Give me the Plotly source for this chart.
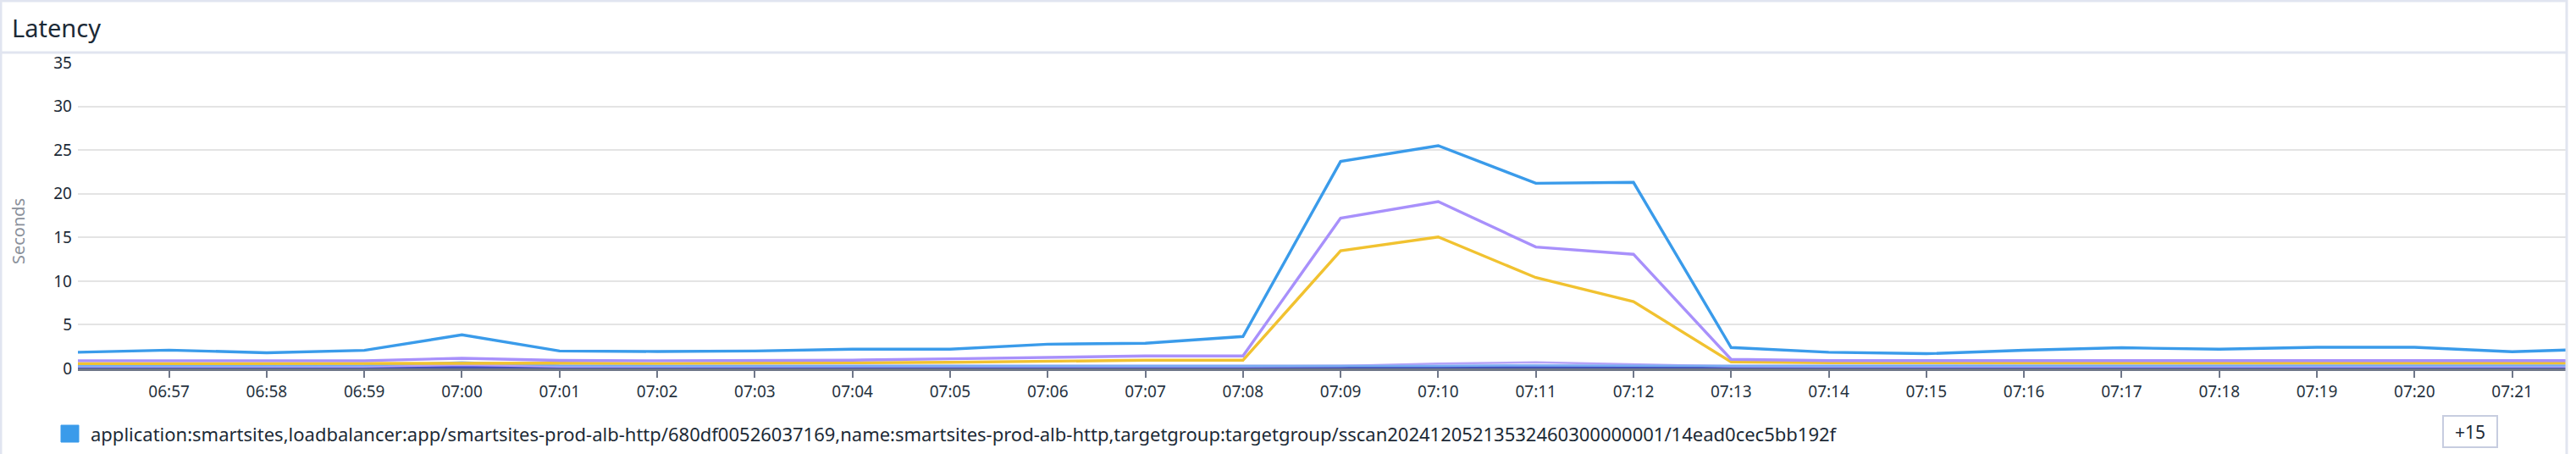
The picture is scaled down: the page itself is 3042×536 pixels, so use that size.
import plotly.graph_objects as go

# ---------------- data ----------------
DATE = "2024-12-05"
minutes = ["06:56", "06:57", "06:58", "06:59", "07:00", "07:01", "07:02", "07:03", "07:04",
           "07:05", "07:06", "07:07", "07:08", "07:09", "07:10", "07:11", "07:12", "07:13",
           "07:14", "07:15", "07:16", "07:17", "07:18", "07:19", "07:20", "07:21", "07:22"]
times = [f"{DATE} {m}:00" for m in minutes]

legend_name = ("application:smartsites,loadbalancer:app/smartsites-prod-alb-http/680df00526037169,"
               "name:smartsites-prod-alb-http,targetgroup:targetgroup/"
               "sscan20241205213532460300000001/14ead0cec5bb192f")

blue = [1.84, 2.10, 1.80, 2.07, 3.85, 2.00, 1.94, 2.00, 2.20, 2.20, 2.78, 2.88, 3.66, 23.7,
        25.5, 21.2, 21.3, 2.40, 1.85, 1.69, 2.08, 2.37, 2.20, 2.43, 2.43, 1.92, 2.25]
purple = [0.88, 0.88, 0.90, 0.88, 1.17, 0.92, 0.88, 0.88, 0.95, 1.10, 1.25, 1.43, 1.43, 17.2,
          19.1, 13.9, 13.07, 1.04, 0.90, 0.90, 0.90, 0.90, 0.90, 0.90, 0.90, 0.90, 0.90]
yellow = [0.55, 0.57, 0.60, 0.57, 0.65, 0.60, 0.57, 0.57, 0.65, 0.70, 0.80, 0.94, 0.94, 13.46,
          15.05, 10.4, 7.66, 0.75, 0.65, 0.62, 0.62, 0.62, 0.62, 0.62, 0.60, 0.60, 0.62]
light_blue = [0.30, 0.32, 0.30, 0.35, 0.70, 0.35, 0.30, 0.30, 0.30, 0.30, 0.30, 0.30, 0.28, 0.25,
              0.30, 0.35, 0.30, 0.30, 0.30, 0.30, 0.30, 0.32, 0.30, 0.30, 0.30, 0.30, 0.35]
lavender = [0.22, 0.22, 0.22, 0.22, 0.40, 0.22, 0.22, 0.22, 0.22, 0.22, 0.22, 0.22, 0.25, 0.30,
            0.55, 0.70, 0.50, 0.25, 0.22, 0.22, 0.22, 0.22, 0.22, 0.22, 0.22, 0.22, 0.22]
indigo = [0.30, 0.30, 0.30, 0.30, 0.32, 0.30, 0.30, 0.30, 0.30, 0.30, 0.30, 0.30, 0.32, 0.30,
          0.32, 0.34, 0.32, 0.30, 0.30, 0.30, 0.30, 0.30, 0.30, 0.30, 0.30, 0.30, 0.30]
navy = [0.18, 0.18, 0.18, 0.18, 0.20, 0.18, 0.18, 0.18, 0.18, 0.18, 0.18, 0.18, 0.20, 0.20,
        0.20, 0.22, 0.20, 0.18, 0.18, 0.18, 0.18, 0.18, 0.18, 0.18, 0.18, 0.18, 0.18]
tiny_a = [0.12, 0.12, 0.12, 0.12, 0.14, 0.12, 0.12, 0.12, 0.12, 0.12, 0.12, 0.12, 0.12, 0.12,
          0.13, 0.14, 0.13, 0.12, 0.12, 0.12, 0.12, 0.12, 0.12, 0.12, 0.12, 0.12, 0.12]
tiny_b = [0.08, 0.08, 0.08, 0.08, 0.09, 0.08, 0.08, 0.08, 0.08, 0.08, 0.08, 0.08, 0.08, 0.08,
          0.09, 0.09, 0.09, 0.08, 0.08, 0.08, 0.08, 0.08, 0.08, 0.08, 0.08, 0.08, 0.08]
tiny_c = [0.05] * 27
tiny_d = [0.04] * 27
tiny_e = [0.03] * 27
tiny_f = [0.02] * 27
tiny_g = [0.02] * 27
tiny_h = [0.01] * 27

small_series = [
    (tiny_h, "#8a94ad"), (tiny_g, "#7d87a3"), (tiny_f, "#6c7694"), (tiny_e, "#5f6a8c"),
    (tiny_d, "#56628a"), (tiny_c, "#4d5a90"), (tiny_b, "#5766c2"), (tiny_a, "#4a58b8"),
    (navy, "#3f4fb0"), (indigo, "#5d5fe0"), (lavender, "#b5a3f8"), (light_blue, "#78acf2"),
]
main_series = [(yellow, "#f1c230"), (purple, "#a890fb"), (blue, "#3a9bea")]

y_ticks = [0, 5, 10, 15, 20, 25, 30, 35]
x_range = [f"{DATE} 06:56:04", f"{DATE} 07:21:33"]

# ---------------- figure ----------------
W, H = 3042, 536
L, R, T, B = 92, 12, 74, 101
fig = go.Figure()

for vals, col in small_series:
    fig.add_trace(go.Scatter(x=times, y=vals, mode="lines",
                             line=dict(color=col, width=2.5), hoverinfo="skip",
                             showlegend=False))
for vals, col in main_series:
    fig.add_trace(go.Scatter(x=times, y=vals, mode="lines",
                             line=dict(color=col, width=3.4), name=legend_name,
                             hoverinfo="skip", showlegend=False))

pw = W - L - R
ph = H - T - B


def px_x(px):
    return (px - L) / pw


def px_y(py):
    return (H - B - py) / ph


border = "#e1e5f0"
shapes = [
    dict(type="line", xref="paper", yref="paper", x0=px_x(1), x1=px_x(1), y0=px_y(0), y1=px_y(536),
         line=dict(color=border, width=3)),
    dict(type="line", xref="paper", yref="paper", x0=px_x(0), x1=px_x(3032), y0=px_y(1), y1=px_y(1),
         line=dict(color=border, width=3)),
    dict(type="line", xref="paper", yref="paper", x0=px_x(3031), x1=px_x(3031), y0=px_y(0), y1=px_y(536),
         line=dict(color=border, width=3)),
    dict(type="line", xref="paper", yref="paper", x0=px_x(0), x1=px_x(3032), y0=px_y(62), y1=px_y(62),
         line=dict(color=border, width=3)),
    # legend colour swatch
    dict(type="rect", xref="paper", yref="paper", x0=px_x(72), x1=px_x(93), y0=px_y(522), y1=px_y(502),
         fillcolor="#3a9bea", line=dict(color="#3a9bea", width=1)),
    # "+15" button
    dict(type="rect", xref="paper", yref="paper", x0=px_x(2885), x1=px_x(2949), y0=px_y(528), y1=px_y(491),
         fillcolor="white", line=dict(color="#c7cde0", width=2)),
]

annotations = [
    dict(text="Latency", xref="paper", yref="paper", x=px_x(12), y=px_y(33), xanchor="left",
         yanchor="middle", showarrow=False, font=dict(size=29, color="#1c2a36")),
    dict(text="Seconds", xref="paper", yref="paper", x=px_x(21), y=px_y(273), xanchor="center",
         yanchor="middle", textangle=-90, showarrow=False, font=dict(size=20, color="#8a909a")),
    dict(text=legend_name, xref="paper", yref="paper", x=px_x(105), y=px_y(512), xanchor="left",
         yanchor="middle", showarrow=False, font=dict(size=22, color="#1c2a36")),
    dict(text="+15", xref="paper", yref="paper", x=px_x(2917), y=px_y(510), xanchor="center",
         yanchor="middle", showarrow=False, font=dict(size=21, color="#1c2a36")),
]

fig.update_layout(
    width=W, height=H,
    margin=dict(l=L, r=R, t=T, b=B, pad=0),
    paper_bgcolor="white", plot_bgcolor="white",
    font=dict(family="Noto Sans, Open Sans, sans-serif", color="#1c2a36"),
    showlegend=False,
    shapes=shapes, annotations=annotations,
    xaxis=dict(type="date", range=x_range, tickformat="%H:%M", dtick=60000,
               tick0=f"{DATE} 06:57:00", showgrid=False, zeroline=False,
               showline=True, linecolor="#6f7789", linewidth=3,
               ticks="outside", ticklen=8, tickwidth=2, tickcolor="#6f7789",
               tickfont=dict(size=19, color="#26323e")),
    yaxis=dict(range=[0, 35], tickvals=y_ticks, showgrid=True, gridcolor="#e4e4e4",
               gridwidth=2, zeroline=False, showline=False, ticks="",
               ticklabelstandoff=6, tickfont=dict(size=19, color="#1c2a36")),
)

fig.write_html("out.html", config={"displayModeBar": False},
               post_script="document.body.style.margin='0';")
